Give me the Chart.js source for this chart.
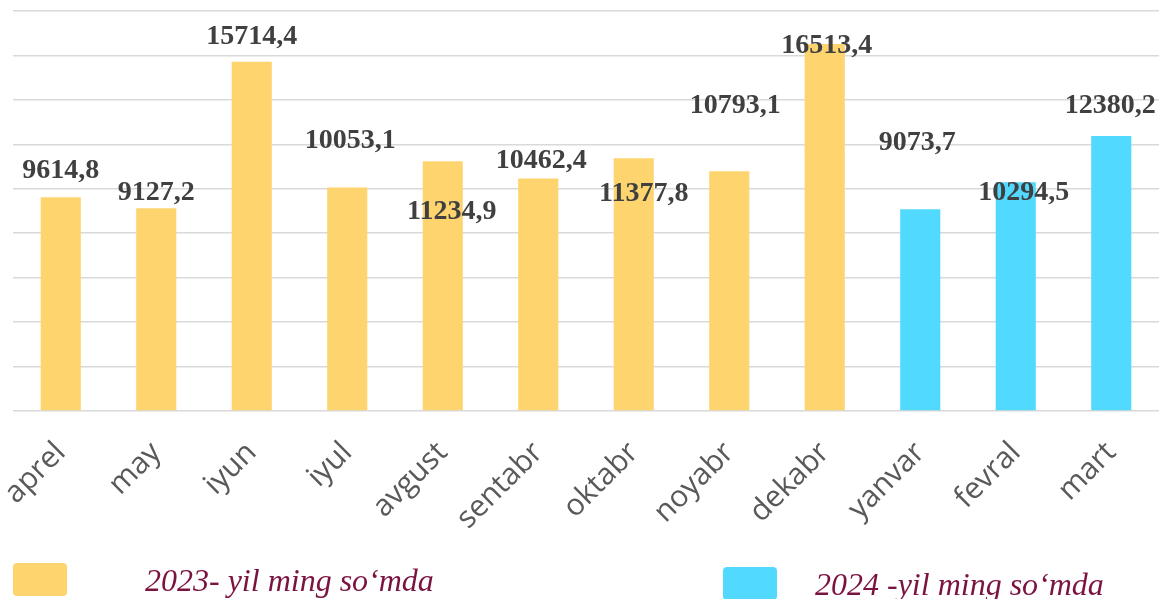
<!DOCTYPE html>
<html>
<head>
<meta charset="utf-8">
<script src="https://cdn.jsdelivr.net/npm/chart.js@4.4.0/dist/chart.umd.min.js"></script>
<style>
  html, body { margin: 0; padding: 0; background: #fff; }
  #wrap { width: 1161px; height: 599px; }
</style>
</head>
<body>
<div id="wrap"><canvas id="chart-bar"></canvas></div>
<script>
const months = ['aprel', 'may', 'iyun', 'iyul', 'avgust', 'sentabr', 'oktabr', 'noyabr', 'dekabr', 'yanvar', 'fevral', 'mart'];

const values2023 = [9614.8, 9127.2, 15714.4, 10053.1, 11234.9, 10462.4, 11377.8, 10793.1, 16513.4, null, null, null];
const values2024 = [null, null, null, null, null, null, null, null, null, 9073.7, 10294.5, 12380.2];

const seriesNames = ['2023- yil ming so\u2018mda', '2024 -yil ming so\u2018mda'];

// the value labels sit by hand in the original, so nudge them from the bar top
const labelDx = [0, 0, 0, 3, 9, 3, 10, 6, 2, -3, 8, -1];
const labelDy = [-27, -15, -25, -47, 50, -18, 36, -65, 2, -67, 11, -30];

const valueLabels = {
  id: 'valueLabels',
  afterDatasetsDraw(chart) {
    const ctx = chart.ctx;
    ctx.save();
    ctx.font = 'bold 28px "Liberation Serif", serif';
    ctx.fillStyle = '#404040';
    ctx.textAlign = 'center';
    ctx.textBaseline = 'middle';
    chart.data.datasets.forEach((ds, di) => {
      chart.getDatasetMeta(di).data.forEach((bar, i) => {
        const v = ds.data[i];
        if (v == null) return;
        ctx.fillText(v.toFixed(1).replace('.', ','), bar.x + labelDx[i], bar.y + labelDy[i]);
      });
    });
    ctx.restore();
  }
};

const bottomLegend = {
  id: 'bottomLegend',
  afterDraw(chart) {
    const ctx = chart.ctx;
    const items = [
      { box: [13, 563], text: [145, 591] },
      { box: [723, 567], text: [815, 595] }
    ];
    ctx.save();
    chart.data.datasets.forEach((ds, i) => {
      const it = items[i];
      ctx.fillStyle = ds.backgroundColor;
      ctx.beginPath();
      ctx.roundRect(it.box[0], it.box[1], 54, 33, 4);
      ctx.fill();
      ctx.font = 'italic 32px "Liberation Serif", serif';
      ctx.fillStyle = '#7b1341';
      ctx.textAlign = 'left';
      ctx.textBaseline = 'alphabetic';
      ctx.fillText(ds.label, it.text[0], it.text[1]);
    });
    ctx.restore();
  }
};

const data = {
  labels: months,
  datasets: [{
    label: seriesNames[0],
    backgroundColor: '#fed46f',
    data: values2023
  }, {
    label: seriesNames[1],
    backgroundColor: '#52d9ff',
    data: values2024
  }]
};

const config = {
  type: 'bar',
  data: data,
  options: {
    responsive: true,
    maintainAspectRatio: false,
    animation: false,
    barPercentage: 0.42,
    categoryPercentage: 1,
    layout: { padding: { top: 11, right: 2, left: 0, bottom: 0 } },
    scales: {
      x: {
        stacked: true,
        grid: { display: false },
        border: { display: false },
        ticks: {
          minRotation: 45,
          maxRotation: 45,
          padding: 16,
          color: '#595959',
          font: { family: '"Open Sans", sans-serif', size: 30 }
        },
        afterFit(s) {
          s.height = 188;
          s.paddingLeft = 0;
          s.paddingRight = 0;
        }
      },
      y: {
        stacked: true,
        min: 0,
        max: 18000,
        ticks: { display: false, stepSize: 2000 },
        border: { display: false },
        grid: { color: '#d9d9d9', lineWidth: 1.5, drawTicks: false },
        afterFit(s) { s.width = 13; }
      }
    },
    plugins: {
      legend: { display: false },
      tooltip: { enabled: false }
    }
  },
  plugins: [valueLabels, bottomLegend]
};

const chartBar = new Chart(
  document.getElementById('chart-bar'),
  config
);
</script>
</body>
</html>
